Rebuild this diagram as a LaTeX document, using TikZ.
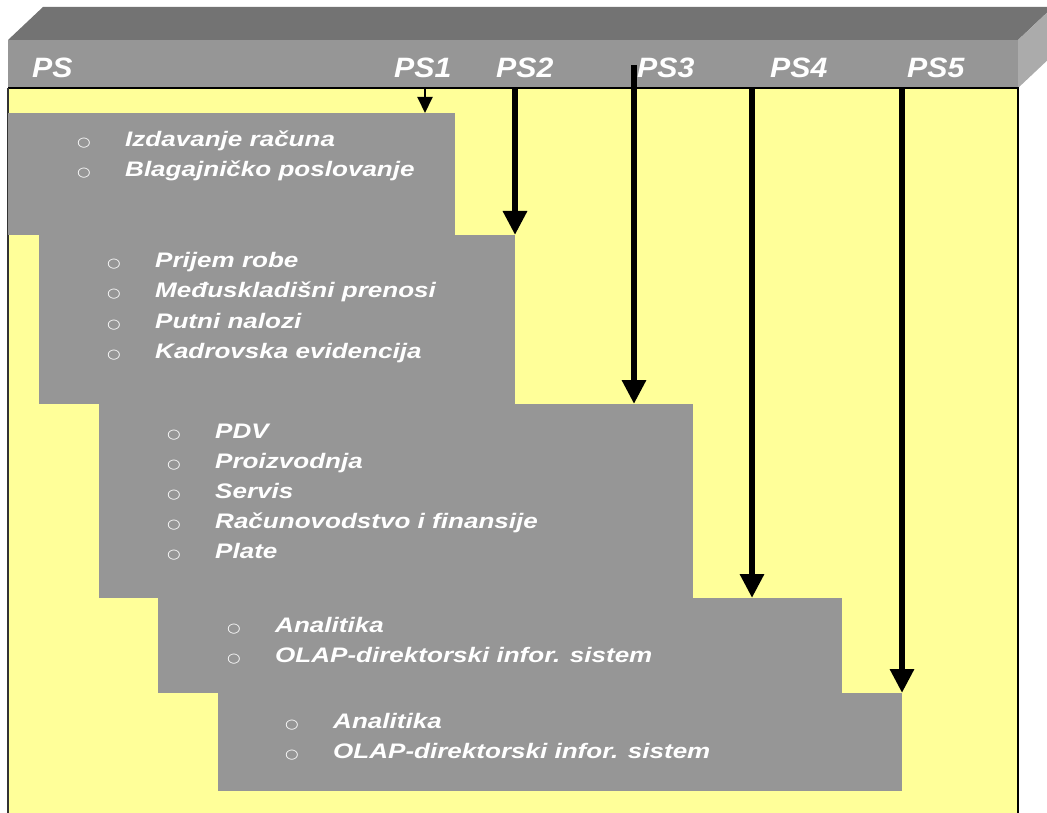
\documentclass[tikz,border=0pt]{standalone}
\usepackage{fontspec}
\setmainfont{Liberation Sans}
\newfontfamily\itemfont[FakeStretch=1.24]{Liberation Sans}
\newfontfamily\labelfont[FakeStretch=1.08]{Liberation Sans}
\newfontfamily\bulletfont[FakeStretch=1.2]{DejaVu Sans}
\usetikzlibrary{arrows.meta,positioning}
\definecolor{boxgray}{HTML}{969696}
\definecolor{topgray}{HTML}{737373}
\definecolor{sidegray}{HTML}{ABABAB}
\definecolor{paleyellow}{HTML}{FFFF99}
\newcommand{\bul}{\llap{\makebox[48pt][l]{\color{white}\bulletfont\fontsize{13}{15}\selectfont\mdseries\upshape ○}}}

\begin{document}
\begin{tikzpicture}[x=1pt,y=-1pt,node distance=30pt,
  phase/.style={fill=boxgray,draw=none,anchor=north west,inner sep=0pt,outer sep=0pt},
  item/.style={anchor=base west,inner sep=0pt,text=white,font=\itemfont\fontsize{21}{24}\selectfont\bfseries\itshape},
  nextitem/.style={below=of #1.base west,anchor=base west},
  pslabel/.style={anchor=base west,inner sep=0pt,text=white,font=\labelfont\fontsize{28}{32}\selectfont\bfseries\itshape},
  thin arrow/.style={-{Triangle[width=15pt,length=16pt]},line width=2pt},
  thick arrow/.style={-{Triangle[width=23pt,length=24pt]},line width=6.5pt}]
  \clip (0,0) rectangle (1047,813);
  % bar on top
  \fill[topgray] (8,40) -- (43,7) -- (1053,7) -- (1018,40) -- cycle;
  \fill[boxgray] (8,40) rectangle (1018,88);
  \fill[sidegray] (1018,40) -- (1053,7) -- (1053,55) -- (1018,88) -- cycle;
  % yellow field
  \fill[paleyellow] (8,88) rectangle (1018,820);
  \draw[line width=2pt] (8,88) -- (1018,88) -- (1018,820);
  \draw[line width=1.3pt,black!80] (8,88) -- (8,820);
  % phases
  \node[phase,minimum width=447pt,minimum height=122pt] (b1) at (8,113) {};
  \node[phase,minimum width=476pt,minimum height=169pt] (b2) at (39,235) {};
  \node[phase,minimum width=594pt,minimum height=194pt] (b3) at (99,404) {};
  \node[phase,minimum width=684pt,minimum height=95pt] (b4) at (158,598) {};
  \node[phase,minimum width=684pt,minimum height=98pt] (b5) at (218,693) {};
  % labels
  \node[pslabel] (ps) at (32,78) {PS};
  \node[pslabel] (ps1) at (394,78) {PS1};
  \node[pslabel] (ps2) at (496,78) {PS2};
  \node[pslabel] (ps3) at (637,78) {PS3};
  \node[pslabel] (ps4) at (770,78) {PS4};
  \node[pslabel] (ps5) at (907,78) {PS5};
  % arrows
  \coordinate (a1) at (425,88);
  \coordinate (a2) at (515,88);
  \coordinate (a3) at (634,65);
  \coordinate (a4) at (752,88);
  \coordinate (a5) at (902,88);
  \draw[thin arrow] (a1) -- (a1 |- b1.north);
  \draw[thick arrow] (a2) -- (a2 |- b2.north);
  \draw[thick arrow] (a3) -- (a3 |- b3.north);
  \draw[thick arrow] (a4) -- (a4 |- b4.north);
  \draw[thick arrow] (a5) -- (a5 |- b5.north);
  % items
  \node[item] (i11) at (125,147) {\bul Izdavanje računa};
  \node[item,nextitem=i11] (i12) {\bul Blagajničko poslovanje};
  \node[item] (i21) at (155,268) {\bul Prijem robe};
  \node[item,nextitem=i21] (i22) {\bul Međuskladišni prenosi};
  \node[item,nextitem=i22] (i23) {\bul Putni nalozi};
  \node[item,nextitem=i23] (i24) {\bul Kadrovska evidencija};
  \node[item] (i31) at (215,438) {\bul PDV};
  \node[item,nextitem=i31] (i32) {\bul Proizvodnja};
  \node[item,nextitem=i32] (i33) {\bul Servis};
  \node[item,nextitem=i33] (i34) {\bul Računovodstvo i finansije};
  \node[item,nextitem=i34] (i35) {\bul Plate};
  \node[item] (i41) at (275,632) {\bul Analitika};
  \node[item,nextitem=i41] (i42) {\bul OLAP-direktorski infor. sistem};
  \node[item] (i51) at (333,728) {\bul Analitika};
  \node[item,nextitem=i51] (i52) {\bul OLAP-direktorski infor. sistem};
\end{tikzpicture}
\end{document}
